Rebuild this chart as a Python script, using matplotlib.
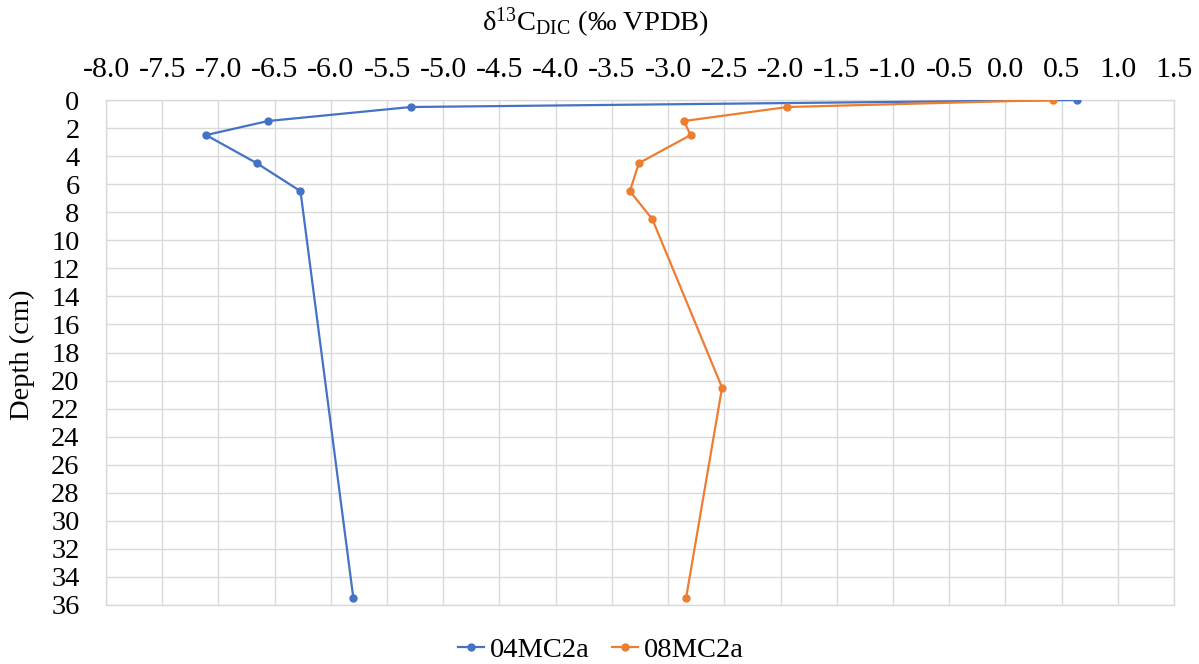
import matplotlib
matplotlib.use("Agg")
import matplotlib.pyplot as plt
from matplotlib.ticker import MultipleLocator, FormatStrFormatter

plt.rcParams['font.family'] = ['Liberation Serif', 'DejaVu Serif']
plt.rcParams['mathtext.fontset'] = 'custom'
plt.rcParams['mathtext.rm'] = 'Liberation Serif'
plt.rcParams['mathtext.it'] = 'Liberation Serif:italic'

# Sample depths (cm) and δ13C of dissolved inorganic carbon (‰ VPDB)
depth_04 = [0, 0.5, 1.5, 2.5, 4.5, 6.5, 35.5]
d13c_04 = [0.64, -5.29, -6.56, -7.11, -6.66, -6.27, -5.80]

depth_08 = [0, 0.5, 1.5, 2.5, 4.5, 6.5, 8.5, 20.5, 35.5]
d13c_08 = [0.42, -1.94, -2.86, -2.80, -3.26, -3.34, -3.14, -2.52, -2.84]

series_names = ['04MC2a', '08MC2a']
colors = ['#4472C4', '#ED7D31']
grid_color = '#D9D9D9'

fig = plt.figure(figsize=(11.99, 6.64), dpi=100)
ax = fig.add_axes([106 / 1199, 1 - 605 / 664, (1174 - 106) / 1199, (605 - 100) / 664])

for xs, ys, name, c in zip([d13c_04, d13c_08], [depth_04, depth_08], series_names, colors):
    ax.plot(xs, ys, color=c, lw=1.6, marker='o', markersize=5, label=name, zorder=3)

ax.set_xlim(-8.0, 1.5)
ax.set_ylim(36, 0)
ax.xaxis.set_major_locator(MultipleLocator(0.5))
ax.xaxis.set_major_formatter(FormatStrFormatter('%.1f'))
ax.yaxis.set_major_locator(MultipleLocator(2))
ax.xaxis.tick_top()
ax.tick_params(axis='x', length=0, labelsize=21.5, pad=12)
ax.tick_params(axis='y', length=0, labelsize=20.5, pad=19)

ax.grid(True, color=grid_color, lw=1.0, zorder=0)
ax.set_axisbelow(True)
for s in ax.spines.values():
    s.set_color(grid_color)
    s.set_linewidth(1.0)

fig.text(595 / 1199, 1 - 23 / 664, 'δ$^{13}$C$_{\\mathrm{DIC}}$ (‰ VPDB)',
         ha='center', va='center', fontsize=20.5)
fig.text(22 / 1199, 1 - 355 / 664, 'Depth (cm)', rotation=90,
         ha='center', va='center', fontsize=20.5)

fig.legend(loc='center', bbox_to_anchor=(601 / 1199, 1 - 650 / 664), ncol=2,
           frameon=False, fontsize=20.5, handlelength=0.9, handletextpad=0.2,
           columnspacing=0.8, borderaxespad=0)

fig.savefig('out.png', dpi=100)
